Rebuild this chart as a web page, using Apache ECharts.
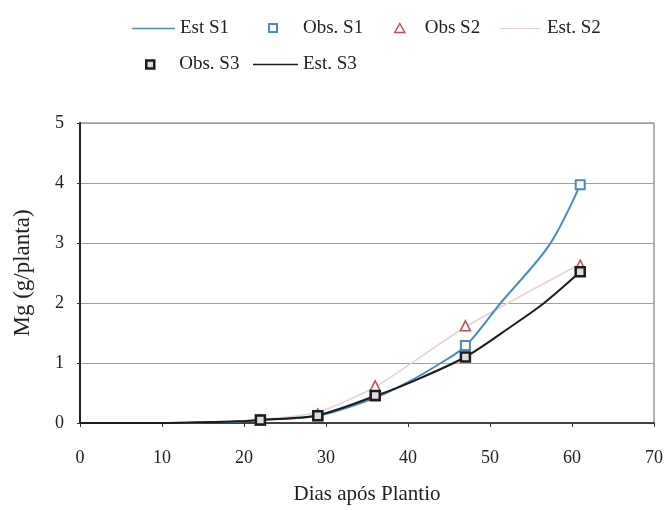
<!DOCTYPE html>
<html>
<head>
<meta charset="utf-8">
<script src="https://cdn.jsdelivr.net/npm/echarts@6/dist/echarts.min.js"></script>
<style>html,body{margin:0;padding:0;background:#fff}#c{width:666px;height:510px}</style>
</head>
<body>
<div id="c"></div>
<script>
// Observed data (days after planting, Mg g/plant)
var obsDays = [22, 29, 36, 47, 61];
var obsS1 = [0.05, 0.12, 0.45, 1.29, 3.97];
var obsS2 = [0.05, 0.15, 0.62, 1.62, 2.63];
var obsS3 = [0.05, 0.12, 0.46, 1.10, 2.52];
// Estimated curves
var estS1Days = [0, 10, 20, 22, 29, 36, 40, 44, 47, 51.3, 57.2, 61];
var estS1 = [0, 0, 0.03, 0.05, 0.12, 0.42, 0.68, 1.0, 1.28, 2.0, 2.96, 3.97];
var estS2Days = [0, 10, 20, 22, 29, 36, 47, 61];
var estS2 = [0, 0, 0.03, 0.05, 0.18, 0.6, 1.6, 2.65];
var estS3Days = [0, 10, 20, 22, 29, 36, 40, 47, 52.7, 56.6, 61];
var estS3 = [0, 0, 0.03, 0.05, 0.13, 0.45, 0.66, 1.1, 1.62, 2.0, 2.52];
var xTicks = [0, 10, 20, 30, 40, 50, 60, 70];
var yTicks = [0, 1, 2, 3, 4, 5];

function pairs(xs, ys) { return xs.map(function (x, i) { return [x, ys[i]]; }); }

var FONT = '"Liberation Serif", "DejaVu Serif", serif';
var C1 = '#4a8bc2', C2 = '#c0504d', C2L = '#e8d2d2', C3 = '#1c1c1c';

function leg(name, left, top, icon, w, h, itemStyle, pad) {
  return {
    left: left, top: top, padding: 0, itemWidth: w, itemHeight: h,
    selectedMode: false,
    data: [{ name: name, icon: icon, itemStyle: itemStyle }],
    formatter: function (n) { return '{p|' + n + '}'; },
    textStyle: { rich: { p: { padding: [0, 0, 0, pad || 0], fontSize: 19, fontFamily: FONT, color: '#222' } } }
  };
}

var chart = echarts.init(document.getElementById('c'), null, { renderer: 'canvas' });
chart.setOption({
  animation: false,
  backgroundColor: '#fff',
  grid: { left: 80, right: 9, top: 123, bottom: 86, show: true, borderColor: '#666', borderWidth: 1 },
  legend: [
    leg('Est S1', 132, 19, 'rect', 43, 1.5, { color: C1 }, 0),
    leg('Obs. S1', 268, 18.5, 'rect', 8, 8, { color: '#fff', borderColor: C1, borderWidth: 2 }, 21),
    leg('Obs S2', 394, 18.5, 'triangle', 10, 9, { color: '#fff', borderColor: C2, borderWidth: 1.5 }, 15),
    leg('Est. S2', 500, 19, 'rect', 40, 1, { color: C2L }, 2),
    leg('Obs. S3', 145, 55, 'rect', 8, 8, { color: '#ddd', borderColor: C3, borderWidth: 2.5 }, 20),
    leg('Est. S3', 253, 55, 'rect', 45, 1.5, { color: C3 }, 0)
  ],
  xAxis: {
    type: 'value', min: xTicks[0], max: xTicks[xTicks.length - 1], interval: 10,
    name: 'Dias após Plantio', nameLocation: 'middle', nameGap: 61,
    nameTextStyle: { fontSize: 21, fontFamily: FONT, color: '#222' },
    axisLine: { show: true, lineStyle: { color: '#222', width: 1.5 } },
    axisTick: { show: true, inside: false, length: 4, lineStyle: { color: '#333' } },
    axisLabel: { margin: 26, fontSize: 18, fontFamily: FONT, color: '#222' },
    splitLine: { show: false }
  },
  yAxis: {
    type: 'value', min: yTicks[0], max: yTicks[yTicks.length - 1], interval: 1,
    name: 'Mg (g/planta)', nameLocation: 'middle', nameGap: 46,
    nameTextStyle: { fontSize: 23, fontFamily: FONT, color: '#222' },
    axisLine: { show: true, lineStyle: { color: '#222', width: 2 } },
    axisTick: { show: true, length: 3, inside: false, lineStyle: { color: '#333' } },
    axisLabel: { margin: 16, fontSize: 18, fontFamily: FONT, color: '#222' },
    splitLine: { show: true, lineStyle: { color: '#a0a0a0', width: 1 } }
  },
  series: [
    { name: 'Est S1', type: 'line', data: pairs(estS1Days, estS1), smooth: 0.3, showSymbol: false,
      lineStyle: { color: C1, width: 2 }, itemStyle: { color: C1 }, z: 3 },
    { name: 'Est. S2', type: 'line', data: pairs(estS2Days, estS2), smooth: 0.2, showSymbol: false,
      lineStyle: { color: C2L, width: 1.5 }, itemStyle: { color: C2L }, z: 2 },
    { name: 'Est. S3', type: 'line', data: pairs(estS3Days, estS3), smooth: 0.3, showSymbol: false,
      lineStyle: { color: C3, width: 2 }, itemStyle: { color: C3 }, z: 4 },
    { name: 'Obs S2', type: 'scatter', data: pairs(obsDays, obsS2), symbol: 'triangle', symbolSize: 10,
      itemStyle: { color: '#fff', borderColor: C2, borderWidth: 1.5, opacity: 1 }, z: 5 },
    { name: 'Obs. S1', type: 'scatter', data: pairs(obsDays, obsS1), symbol: 'rect', symbolSize: 9,
      itemStyle: { color: '#fff', borderColor: C1, borderWidth: 2, opacity: 1 }, z: 6 },
    { name: 'Obs. S3', type: 'scatter', data: pairs(obsDays, obsS3), symbol: 'rect', symbolSize: 9,
      itemStyle: { color: '#ddd', borderColor: C3, borderWidth: 2.5, opacity: 1 }, z: 7 }
  ]
});
</script>
</body>
</html>
